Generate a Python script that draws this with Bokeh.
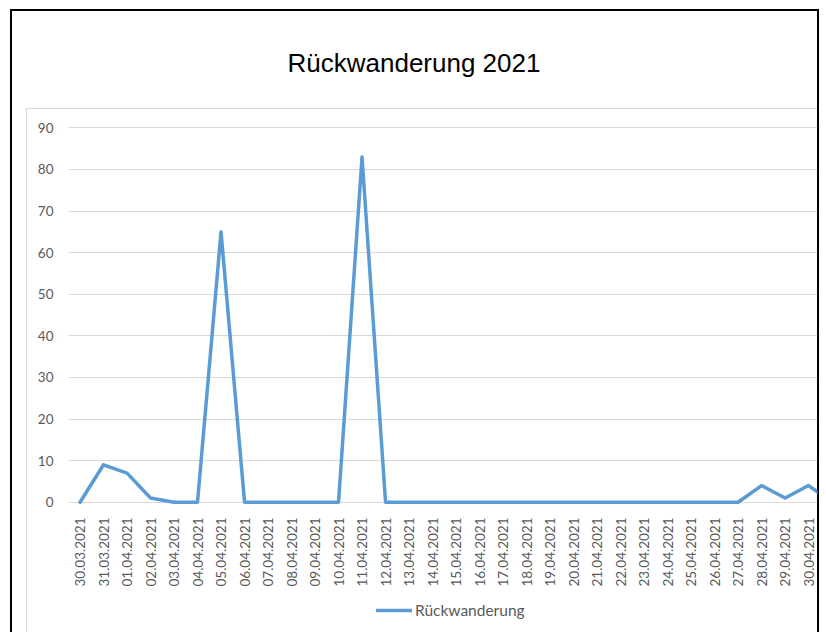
import math

from bokeh.plotting import figure
from bokeh.layouts import column
from bokeh.models import (ColumnDataSource, Range1d, FixedTicker, Legend, LegendItem)
from bokeh.embed import file_html
from bokeh.resources import INLINE

# Daily return migration counts
dates = [
    "30.03.2021", "31.03.2021", "01.04.2021", "02.04.2021", "03.04.2021",
    "04.04.2021", "05.04.2021", "06.04.2021", "07.04.2021", "08.04.2021",
    "09.04.2021", "10.04.2021", "11.04.2021", "12.04.2021", "13.04.2021",
    "14.04.2021", "15.04.2021", "16.04.2021", "17.04.2021", "18.04.2021",
    "19.04.2021", "20.04.2021", "21.04.2021", "22.04.2021", "23.04.2021",
    "24.04.2021", "25.04.2021", "26.04.2021", "27.04.2021", "28.04.2021",
    "29.04.2021", "30.04.2021", "01.05.2021",
]
values = [
    0, 9, 7, 1, 0,
    0, 65, 0, 0, 0,
    0, 0, 83, 0, 0,
    0, 0, 0, 0, 0,
    0, 0, 0, 0, 0,
    0, 0, 0, 0, 4,
    1, 4, 0,
]
y_ticks = [0, 10, 20, 30, 40, 50, 60, 70, 80, 90]
title_text = "Rückwanderung 2021"
series_name = "Rückwanderung"

TEXT_GREY = "#595959"
GRID_GREY = "#D9D9D9"
LINE_BLUE = "#5B9BD5"
LABEL_FONT = "Lato"
LINE_STYLE = dict(line_color=LINE_BLUE, line_width=3.5, line_join="round", line_cap="round")

positions = list(range(len(dates)))
source = ColumnDataSource(data=dict(x=positions, y=values, date=dates))

p = figure(
    frame_width=749, frame_height=394,
    output_backend="svg", toolbar_location=None,
    x_range=Range1d(-0.49, 31.38),
    y_range=Range1d(-1.03, 93.7),
    min_border_left=68, min_border_right=9,
    min_border_top=112, min_border_bottom=88,
)
p.background_fill_color = None
p.border_fill_color = None
p.outline_line_color = None

# page frame: black border around the chart, light grey chart-area edge
p.styles = {
    "background-color": "white",
    "background-image": ", ".join(["linear-gradient(#000000, #000000)"] * 3
                                  + ["linear-gradient(#D9D9D9, #D9D9D9)"] * 2),
    "background-position": "10px 9px, 10px 9px, 817px 9px, 26px 108px, 26px 108px",
    "background-size": "2px 900px, 809px 2px, 2px 900px, 1px 900px, 791px 1px",
    "background-repeat": "no-repeat",
}

p.line("x", "y", source=source, **LINE_STYLE)

# title
p.title.text = title_text
p.title.align = "left"
p.title.offset = 219
p.title.vertical_align = "top"
p.title.standoff = 66
p.title.text_font = "Liberation Sans"
p.title.text_font_size = "26px"
p.title.text_font_style = "normal"
p.title.text_color = "black"

# category axis: one tick per day, labels read bottom to top
xa = p.xaxis[0]
xa.ticker = FixedTicker(ticks=positions)
xa.major_label_overrides = {i: d for i, d in enumerate(dates)}
xa.major_label_orientation = math.pi / 2
xa.axis_line_color = None
xa.major_tick_line_color = None
xa.minor_tick_line_color = None
xa.major_tick_out = 0
xa.major_tick_in = 0
xa.major_label_standoff = 11
xa.major_label_text_font = LABEL_FONT
xa.major_label_text_font_size = "13.5px"
xa.major_label_text_color = TEXT_GREY
p.xgrid.visible = False

ya = p.yaxis[0]
ya.ticker = FixedTicker(ticks=y_ticks)
ya.axis_line_color = None
ya.major_tick_line_color = None
ya.minor_tick_line_color = None
ya.major_tick_out = 0
ya.major_tick_in = 0
ya.major_label_standoff = 15
ya.major_label_text_font = LABEL_FONT
ya.major_label_text_font_size = "13.5px"
ya.major_label_text_color = TEXT_GREY
p.ygrid.grid_line_color = GRID_GREY
p.ygrid.grid_line_width = 1

# legend strip below the chart
q = figure(
    width=826, height=38,
    output_backend="svg", toolbar_location=None,
    x_range=Range1d(0, 1), y_range=Range1d(0, 1),
    x_axis_type=None, y_axis_type=None,
    min_border=0,
)
q.background_fill_color = None
q.border_fill_color = None
q.outline_line_color = None
q.xgrid.visible = False
q.ygrid.visible = False
q.styles = {
    "background-color": "white",
    "background-image": ", ".join(["linear-gradient(#000000, #000000)"] * 2
                                  + ["linear-gradient(#D9D9D9, #D9D9D9)"]),
    "background-position": "10px 0px, 817px 0px, 26px 0px",
    "background-size": "2px 100px, 2px 100px, 1px 100px",
    "background-repeat": "no-repeat",
}
# hidden copy of the series that only supplies the legend key
key = q.line("x", "y", source=source, visible=False, **LINE_STYLE)

legend = Legend(
    items=[LegendItem(label=series_name, renderers=[key])],
    location=(308, 12), orientation="horizontal",
    margin=0, padding=6, spacing=0,
    glyph_width=36, glyph_height=20, label_standoff=3,
    label_text_font=LABEL_FONT, label_text_font_size="15.5px",
    label_text_color=TEXT_GREY,
    border_line_color=None, background_fill_alpha=0,
    inactive_fill_alpha=0,
)
q.add_layout(legend)

root = column(p, q, spacing=0)
open("out.html", "w").write(file_html(root, INLINE))
